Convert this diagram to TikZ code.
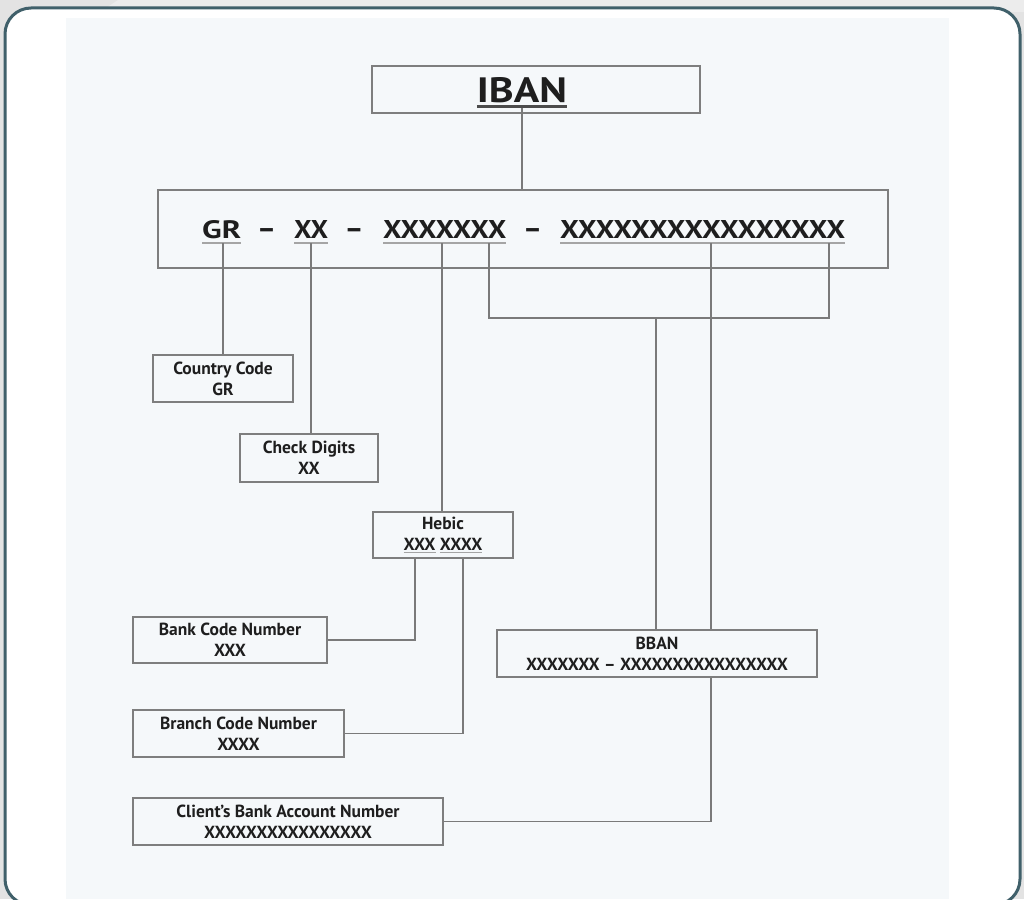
\documentclass[tikz,border=0pt]{standalone}
\usepackage{fontspec}
\setmainfont{PT Sans}
\usepackage{graphicx}
\definecolor{ink}{HTML}{1E1E1E}
\definecolor{boxgray}{HTML}{7E7E7E}
\definecolor{linegray}{HTML}{7A7A7A}
\definecolor{ulgray}{HTML}{A5A5A5}
\definecolor{panel}{HTML}{F5F8FA}
\definecolor{frame}{HTML}{40606A}
\definecolor{topgray}{HTML}{E3E3E3}
\definecolor{toplight}{HTML}{ECECEC}
\newcommand{\ulx}[1]{\textcolor{ulgray}{\underline{\textcolor{ink}{#1}}}}
\begin{document}
\begin{tikzpicture}[x=1pt,y=-1pt,
  box/.style={draw=boxgray, line width=1.7pt, rectangle, inner sep=0pt, align=center,
    text=ink, font=\fontsize{17.5}{21}\selectfont\bfseries},
  conn/.style={draw=linegray, line width=1.3pt},
  ulst/.style={draw=ulgray, line width=1.4pt},
  seg/.style={anchor=base west, inner sep=0pt, text=ink},
  dashsign/.style={anchor=base, inner sep=0pt, text=ink, font=\fontsize{28}{28}\selectfont\bfseries}]
\useasboundingbox (0,0) rectangle (1024,899);
% background
\fill[topgray] (0,0) rectangle (1024,899);
\fill[toplight] (100,12) -- (118,0) -- (1024,0) -- (1024,12) -- cycle;
\filldraw[fill=white, draw=frame, line width=3pt, rounded corners=26pt] (5,8) rectangle (1020,905);
\fill[panel] (66,18) rectangle (949,899);

% IBAN
\node[box, minimum width=328pt, minimum height=47pt] (iban) at (536,89.5) {};
\node[anchor=base, inner sep=0pt, text=ink] (ibantxt) at (522,102) {\resizebox{90pt}{25pt}{\bfseries IBAN}};
\draw[draw=black!70, line width=2.2pt] ([yshift=-4.5pt]ibantxt.base west) -- ([yshift=-4.5pt]ibantxt.base east);

% main box
\node[box, minimum width=730pt, minimum height=78pt] (main) at (523,229) {};
\node[seg] (gr) at (202,238) {\resizebox{39pt}{18pt}{\bfseries GR}};
\node[seg] (xx) at (294,238) {\resizebox{34pt}{18pt}{\bfseries XX}};
\node[seg] (bk) at (383,238) {\resizebox{123pt}{18pt}{\bfseries XXXXXXX}};
\node[seg] (acc) at (560,238) {\resizebox{285pt}{18pt}{\bfseries XXXXXXXXXXXXXXXX}};
\node[dashsign] (d1) at (266.5,238) {\resizebox{19pt}{!}{–}};
\node[dashsign] (d2) at (354,238) {\resizebox{19pt}{!}{–}};
\node[dashsign] (d3) at (532.5,238) {\resizebox{19pt}{!}{–}};
\foreach \n in {gr,xx,bk,acc}
  \draw[ulst] ([yshift=-5pt]\n.base west) -- ([yshift=-5pt]\n.base east);

% connection points on the main line
\coordinate (pGR) at (223,243);
\coordinate (pXX) at (311,243);
\coordinate (pBK) at (442,243);
\coordinate (pB1) at (489,243);
\coordinate (pAC) at (711,243);
\coordinate (pB2) at (829,243);
\coordinate (J) at (656,318);
\coordinate (h1) at (415,0);
\coordinate (h2) at (463,0);

% boxes
\node[box, minimum width=140pt, minimum height=47pt] (country) at (223,378.5) {Country Code\\GR};
\node[box, minimum width=138pt, minimum height=48pt] (check) at (309,458) {Check Digits\\XX};
\node[box, minimum width=140pt, minimum height=46pt] (hebic) at (443,535) {Hebic\\\ulx{XXX}\ \ulx{XXXX}};
\node[box, minimum width=194pt, minimum height=46pt] (bank) at (230,640) {Bank Code Number\\XXX};
\node[box, minimum width=211pt, minimum height=47pt] (branch) at (238.5,733.5) {Branch Code Number\\XXXX};
\node[box, minimum width=320pt, minimum height=47pt] (bban) at (657,653.5) {BBAN\\XXXXXXX – XXXXXXXXXXXXXXXX};
\node[box, minimum width=310pt, minimum height=47pt] (client) at (288,821.5) {Client’s Bank Account Number\\XXXXXXXXXXXXXXXX};

% connectors
\draw[conn] ([yshift=-5.5pt]ibantxt.base) -- (ibantxt.base |- main.north);
\draw[conn] (pGR) -- (pGR |- country.north);
\draw[conn] (pXX) -- (pXX |- check.north);
\draw[conn] (pBK) -- (pBK |- hebic.north);
\draw[conn] (pB1) |- (J) -| (pB2);
\draw[conn] (J) -- (J |- bban.north);
\draw[conn] (pAC) -- (pAC |- bban.north);
\draw[conn] (pAC |- bban.south) |- (client.east);
\draw[conn] (h1 |- hebic.south) |- (bank.east);
\draw[conn] (h2 |- hebic.south) |- (branch.east);
\end{tikzpicture}
\end{document}
